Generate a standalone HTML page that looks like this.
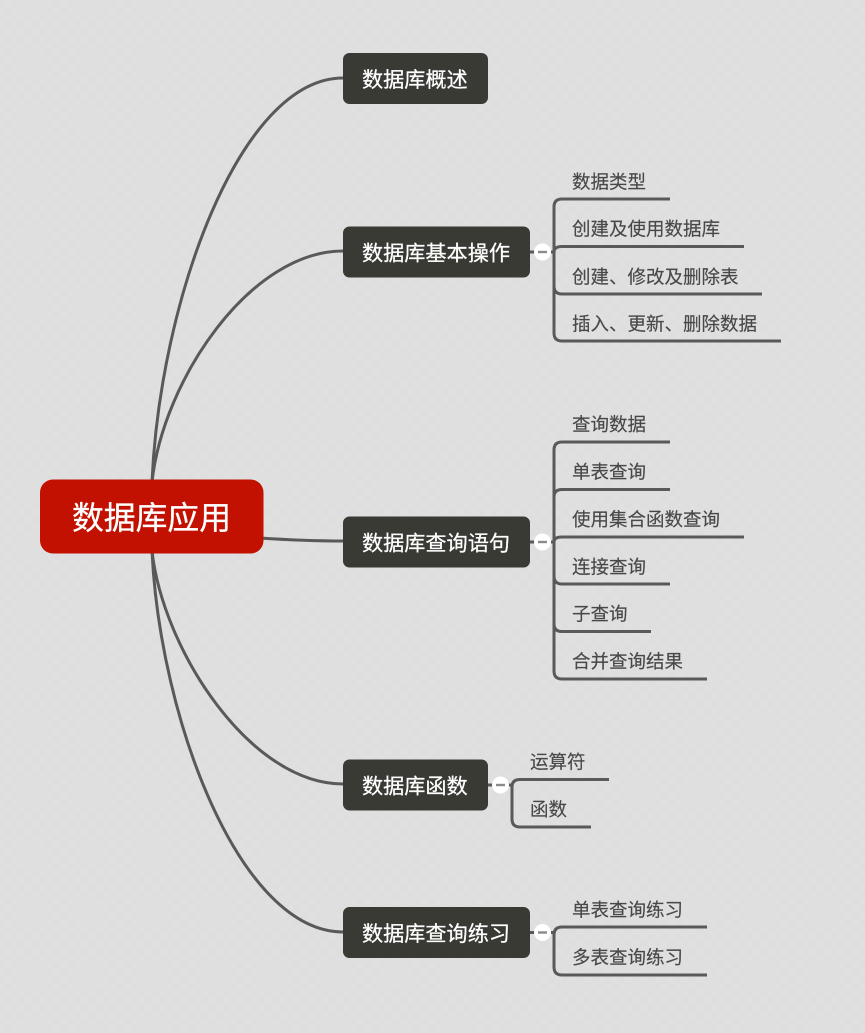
<!DOCTYPE html>
<html><head><meta charset="utf-8"><style>
html,body{margin:0;padding:0;width:865px;height:1033px;overflow:hidden;background:#dfdfdf}
svg{display:block}
text{font-family:"Liberation Sans","Noto Sans CJK SC",sans-serif}
.n{font-size:21.150px;fill:#fff;stroke:#fff;stroke-width:.25}
.t{font-size:18.500px;fill:#484848;stroke:#484848;stroke-width:.15}
.l{fill:none;stroke:#595959;stroke-width:3;stroke-linecap:butt}
</style></head><body>
<svg width="865" height="1033" viewBox="0 0 865 1033" xmlns="http://www.w3.org/2000/svg">
<defs><pattern id="p" width="10" height="10" patternUnits="userSpaceOnUse" patternTransform="rotate(45)">
<rect width="10" height="10" fill="#dfdfdf"/><rect width="5" height="5" fill="#dedede"/><rect x="5" y="5" width="5" height="5" fill="#e0e0e0"/></pattern></defs>
<rect width="865" height="1033" fill="url(#p)"/>

<!-- main branches -->
<path class="l" d="M152 482C160 300 240 78 343 78"/>
<path class="l" d="M152 482C163 380 250 251 343 251"/>
<path class="l" d="M260 538C290 540 315 541 343 541"/>
<path class="l" d="M152 551C163 650 250 784 343 784"/>
<path class="l" d="M152 551C160 720 240 932 343 932"/>

<!-- root -->
<rect x="40" y="479.500" width="223.500" height="74" rx="13" fill="#c21100"/>
<text x="72" y="529" font-size="31.800" fill="#fff" stroke="#fff" stroke-width=".3">数据库应用</text>

<!-- level 1 -->
<rect x="343" y="53" width="145" height="51" rx="6.500" fill="#393a34"/>
<text class="n" x="362" y="87">数据库概述</text>
<rect x="343" y="226.500" width="187" height="51" rx="6.500" fill="#393a34"/>
<text class="n" x="362" y="260.500">数据库基本操作</text>
<rect x="343" y="516.500" width="187" height="51" rx="6.500" fill="#393a34"/>
<text class="n" x="362" y="550.500">数据库查询语句</text>
<rect x="343" y="759.500" width="145" height="51" rx="6.500" fill="#393a34"/>
<text class="n" x="362" y="793.500">数据库函数</text>
<rect x="343" y="907" width="187" height="51" rx="6.500" fill="#393a34"/>
<text class="n" x="362" y="941">数据库查询练习</text>

<!-- group 1 -->
<path class="l" d="M530 252H554"/>
<path class="l" d="M670 199H562Q554 199 554 207V333Q554 341 562 341H781"/>
<path class="l" d="M744 246.500H562Q554 246.500 554 252"/>
<path class="l" d="M554 286Q554 294 562 294H762"/>
<circle cx="542.500" cy="252" r="8.500" fill="#fff"/><rect x="538" y="250.800" width="9" height="2.400" fill="#8a8a8a"/>
<text class="t" x="572" y="188.500">数据类型</text>
<text class="t" x="572" y="235.500">创建及使用数据库</text>
<text class="t" x="572" y="283.500">创建、修改及删除表</text>
<text class="t" x="572" y="330.500">插入、更新、删除数据</text>

<!-- group 2 -->
<path class="l" d="M530 542H554"/>
<path class="l" d="M670 442H562Q554 442 554 450V671Q554 679 562 679H707"/>
<path class="l" d="M670 489.500H562Q554 489.500 554 497"/>
<path class="l" d="M744 537H562Q554 537 554 542"/>
<path class="l" d="M554 576Q554 584 562 584H670"/>
<path class="l" d="M554 624Q554 631.500 562 631.500H651"/>
<circle cx="542.500" cy="542" r="8.500" fill="#fff"/><rect x="538" y="540.800" width="9" height="2.400" fill="#8a8a8a"/>
<text class="t" x="572" y="431">查询数据</text>
<text class="t" x="572" y="478.500">单表查询</text>
<text class="t" x="572" y="526">使用集合函数查询</text>
<text class="t" x="572" y="573.500">连接查询</text>
<text class="t" x="572" y="620.500">子查询</text>
<text class="t" x="572" y="668">合并查询结果</text>

<!-- group 3 -->
<path class="l" d="M488 785H512"/>
<path class="l" d="M609 779.500H520Q512 779.500 512 787V819Q512 827 520 827H591"/>
<circle cx="500.500" cy="785" r="8.500" fill="#fff"/><rect x="496" y="783.800" width="9" height="2.400" fill="#8a8a8a"/>
<text class="t" x="530" y="768.500">运算符</text>
<text class="t" x="530" y="816">函数</text>

<!-- group 4 -->
<path class="l" d="M530 932.500H554"/>
<path class="l" d="M707 927H562Q554 927 554 935V967Q554 975 562 975H707"/>
<circle cx="542.500" cy="932.500" r="8.500" fill="#fff"/><rect x="538" y="931.300" width="9" height="2.400" fill="#8a8a8a"/>
<text class="t" x="572" y="916.500">单表查询练习</text>
<text class="t" x="572" y="964">多表查询练习</text>
</svg>
</body></html>
